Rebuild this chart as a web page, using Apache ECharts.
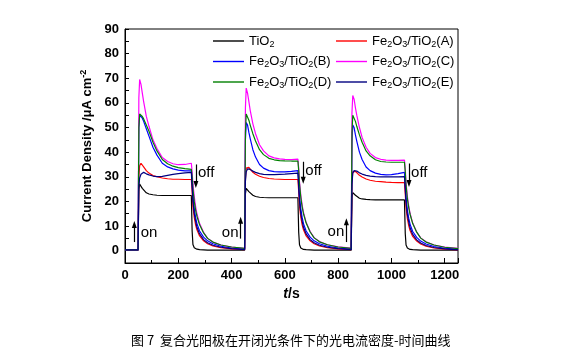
<!DOCTYPE html>
<html>
<head>
<meta charset="utf-8">
<script src="https://cdn.jsdelivr.net/npm/echarts@6/dist/echarts.min.js"></script>
<style>html,body{margin:0;padding:0;background:#fff;}#c{width:579px;height:359px;}</style>
</head>
<body>
<div id="c"></div>
<script>
var times = [0, 49,
  50,52,55,60,65,70,80,90,105,120,140,160,180,200,225,249,
  250,252,255,260,265,270,280,295,310,330,360,400,449,
  450,452,455,460,465,470,480,490,505,520,540,560,580,600,625,649,
  650,652,655,660,665,670,680,695,710,730,760,800,849,
  850,852,855,860,865,870,880,890,905,920,940,960,980,1000,1025,1049,
  1050,1052,1055,1060,1065,1070,1080,1095,1110,1130,1160,1200,1250];

var tio2 = [0.2,0.2,
  0.2,25,27,26.3,25.3,24.5,23.5,23,22.7,22.5,22.4,22.4,22.4,22.4,22.4,22.4,
  22.4,8,2.5,1.2,0.8,0.6,0.4,0.3,0.2,0.2,0.2,0.2,0.2,
  0.2,23,25.3,24.8,24,23.3,22.5,22,21.7,21.6,21.5,21.5,21.5,21.5,21.5,21.5,
  21.5,7.5,2.4,1.1,0.7,0.5,0.4,0.3,0.2,0.2,0.2,0.2,0.2,
  0.2,21.5,23.6,23.2,22.5,22,21.3,21,20.8,20.7,20.6,20.6,20.6,20.6,20.6,20.6,
  20.6,7,2.3,1.1,0.7,0.5,0.4,0.3,0.2,0.2,0.2,0.2,0.2];

var sampleA = [0.3,0.3,
  0.3,30,34.5,35.5,35,34,32.5,31.5,30.5,30,29.5,29.2,29,29,28.9,28.9,
  28.9,24,18,13.5,10.5,8.5,6,4,2.8,1.9,1.2,0.7,0.4,
  0.4,29,33.5,34.3,33.8,33,31.8,31,30.2,29.7,29.3,29.1,29,28.9,28.9,28.9,
  28.9,24,18,13.5,10.5,8.5,6,4,2.8,1.9,1.2,0.7,0.4,
  0.4,28,32,32.5,32.2,31.6,30.6,29.9,29.1,28.6,28.2,28,27.8,27.7,27.6,27.6,
  27.6,23,17.5,13,10.2,8.2,5.8,3.9,2.7,1.8,1.1,0.6,0.3];

var sampleB = [0.3,0.3,
  0.3,50,55,55,53.8,52.5,49.5,46.5,42,38.8,35.5,34,33.2,32.7,32.4,32.4,
  32.4,28,22,17,13.5,11,8,5.5,4,2.8,1.8,1.1,0.6,
  0.6,45,52,51,48,45.5,41,38,35,33.5,32.5,32.1,32,32,32.2,32.5,
  32.5,28,22,17,13.5,11,8,5.5,4,2.8,1.8,1.1,0.6,
  0.6,44,51,50,47,44.5,40,37,34,32.5,31.5,31,30.8,30.9,31.3,31.8,
  31.8,27.5,21.5,16.5,13.2,10.8,7.8,5.4,3.9,2.7,1.7,1,0.5];

var sampleC = [0.3,0.3,
  0.3,62,69.5,67.5,64,60.5,54.5,50.5,45,41.5,37.8,36.2,35.3,34.9,35,35.5,
  35.5,32,27,22,18,15,11,7.5,5,3.5,2.3,1.5,0.9,
  0.9,58,66,64,60.5,57,51.5,47.5,43,40.5,38.5,37.7,37.3,37.1,37,37.2,
  37.2,33.5,28,22.5,18.5,15.5,11.5,7.8,5.3,3.7,2.4,1.6,1,
  1,56,63,61.5,58,55,50,46,42,39.5,37.8,37.1,36.8,36.7,36.7,36.8,
  36.8,33,27.5,22,18.2,15.2,11.2,7.6,5.2,3.6,2.3,1.5,0.9];

var sampleD = [0.3,0.3,
  0.3,50,55.5,55.5,54.5,53.5,51,48.5,44,40.5,37,35.3,34.3,33.7,33.3,33,
  33,30,25,20,16.5,14,10.5,7.2,5,3.5,2.3,1.5,0.9,
  0.9,48,55.5,55,53,51,47.5,44.5,41,39,37.5,36.9,36.6,36.5,36.4,36.4,
  36.4,32.5,27,21.5,17.8,15,11.2,7.6,5.2,3.6,2.4,1.5,0.9,
  0.9,48,55,54.5,52.5,50.5,47,44,40.5,38.5,36.9,36.2,36,35.9,35.9,35.9,
  35.9,32,26.5,21,17.5,14.8,11,7.5,5.1,3.5,2.3,1.4,0.8];

var sampleE = [0.3,0.3,
  0.3,26,29.5,31,31.8,31.8,31.2,30.8,30.3,30.1,30.2,30.6,31,31.3,31.6,31.8,
  31.8,26,20,15,12,9.5,6.8,4.5,3.2,2.2,1.4,0.8,0.4,
  0.4,28,32,33.2,33.3,33,32.3,31.8,31.3,31,30.9,30.9,31,31.1,31.3,31.5,
  31.5,26,20,15,12,9.5,6.8,4.5,3.2,2.2,1.4,0.8,0.4,
  0.4,27,31.5,32.5,32.6,32.3,31.6,31.1,30.6,30.3,30.1,30,30,30,30,30.1,
  30.1,25,19.5,14.6,11.7,9.3,6.6,4.4,3.1,2.1,1.3,0.7,0.3];

var seriesNames = ['TiO2','Fe2O3/TiO2(A)','Fe2O3/TiO2(B)','Fe2O3/TiO2(C)','Fe2O3/TiO2(D)','Fe2O3/TiO2(E)'];
var seriesColors = ['#000000','#ff0000','#0000ff','#ff00ff','#008000','#000080'];
var seriesValues = [tio2, sampleA, sampleB, sampleC, sampleD, sampleE];

var xTicks = [0,200,400,600,800,1000,1200];
var yTicks = [0,10,20,30,40,50,60,70,80,90];

// annotation arrows: [t, from, to]
var onArrows = [[35,3.5,10.6],[434,4.9,12.4],[831,3.5,11.7]];
var offArrows = [[266,35,26.9],[669,36.1,28.6],[1066,35.4,27.3]];
// labels: [t, value, text, align]
var annoLabels = [[59,7.2,'on','left'],[426,7.2,'on','right'],[823,7.6,'on','right'],
                  [274,31.5,'off','left'],[677,32.4,'off','left'],[1074,31.5,'off','left']];

var FONT = 'Liberation Sans';

function pairs(vals){ return times.map(function(t,i){ return [t, vals[i]]; }); }

var series = seriesNames.map(function(n, k){
  return {
    name: n, type: 'line', symbol: 'none', showSymbol: false,
    data: pairs(seriesValues[k]),
    lineStyle: {color: seriesColors[k], width: 1.2},
    itemStyle: {color: seriesColors[k]},
    animation: false, silent: true, z: 2 + k
  };
});

var arrowLines = [];
onArrows.concat(offArrows).forEach(function(a){
  arrowLines.push([{coord:[a[0],a[1]]},{coord:[a[0],a[2]]}]);
});
series.push({
  type: 'line', data: [], silent: true, animation: false, z: 20,
  markLine: {
    silent: true, animation: false, symbol: ['none','triangle'], symbolSize: [5,7],
    lineStyle: {color:'#000', width: 1.2, type: 'solid'},
    label: {show: false}, emphasis: {disabled: true},
    data: arrowLines
  },
  markPoint: {
    silent: true, animation: false, symbol: 'circle', symbolSize: 0,
    data: annoLabels.map(function(l){
      return {coord:[l[0],l[1]], label:{show:true, formatter:l[2], position:[0,0], align:l[3], verticalAlign:'middle',
        fontFamily: FONT, fontSize: 15, color:'#000'}};
    })
  }
});

function fmtName(n){ return n.replace(/(\d)/g, '{s|$1}'); }

var legendCommon = {
  orient: 'vertical', itemWidth: 31, itemHeight: 1.4, itemGap: 2.5, padding: 0, icon: 'rect',
  formatter: fmtName,
  textStyle: {fontFamily: FONT, fontSize: 13, color: '#000', lineHeight: 16,
    rich: {s: {fontSize: 9, fontFamily: FONT, verticalAlign: 'bottom', lineHeight: 10, padding:[9,0,0,0]}}},
  selectedMode: false
};

var chart = echarts.init(document.getElementById('c'), null, {renderer: 'canvas'});
chart.setOption({
  animation: false,
  backgroundColor: '#fff',
  title: {
    text: '图 7  复合光阳极在开闭光条件下的光电流密度-时间曲线',
    left: 131, top: 334, padding: 0,
    textStyle: {fontFamily: 'Noto Sans CJK SC', fontSize: 13, fontWeight: 'normal', color: '#000'}
  },
  legend: [
    Object.assign({}, legendCommon, {left: 213, top: 31, data: [seriesNames[0], seriesNames[2], seriesNames[4]]}),
    Object.assign({}, legendCommon, {left: 336, top: 31, data: [seriesNames[1], seriesNames[3], seriesNames[5]]})
  ],
  grid: {left: 125, right: 121, top: 29, bottom: 96, show: true, borderColor: '#000', borderWidth: 1, containLabel: false},
  xAxis: {
    type: 'value', min: 0, max: 1250, interval: 200,
    name: '{i|t}/s', nameLocation: 'middle', nameGap: 19,
    nameTextStyle: {fontFamily: FONT, fontSize: 14, fontWeight: 'bold', color: '#000',
      rich: {i: {fontStyle: 'italic', fontWeight: 'bold', fontFamily: FONT, fontSize: 14}}},
    axisLine: {show: true, onZero: false, lineStyle: {color: '#000', width: 1}},
    axisTick: {show: true, inside: true, length: 5, lineStyle: {color:'#000'}},
    minorTick: {show: true, splitNumber: 2, length: 3, lineStyle: {color:'#000'}},
    splitLine: {show: false},
    axisLabel: {fontFamily: FONT, fontSize: 13, fontWeight: 'bold', color: '#000', margin: 6,
      customValues: xTicks, formatter: function(v){ return String(v); }}
  },
  yAxis: {
    type: 'value', min: -5, max: 90, interval: 5,
    name: 'Current Density /μA cm{sup|-2}', nameLocation: 'middle', nameGap: 24, nameRotate: 90,
    nameTextStyle: {fontFamily: FONT, fontSize: 13, fontWeight: 'bold', color: '#000',
      rich: {sup: {fontSize: 9, fontWeight: 'bold', fontFamily: FONT, verticalAlign: 'top', padding: [0,0,8,0]}}},
    axisLine: {show: true, onZero: false, lineStyle: {color: '#000', width: 1}},
    axisTick: {show: true, inside: true, length: 4, lineStyle: {color:'#000'}},
    splitLine: {show: false},
    axisLabel: {fontFamily: FONT, fontSize: 13, fontWeight: 'bold', color: '#000', margin: 6,
      customValues: yTicks, formatter: function(v){ return String(v); }}
  },
  series: series
});
</script>
</body>
</html>
